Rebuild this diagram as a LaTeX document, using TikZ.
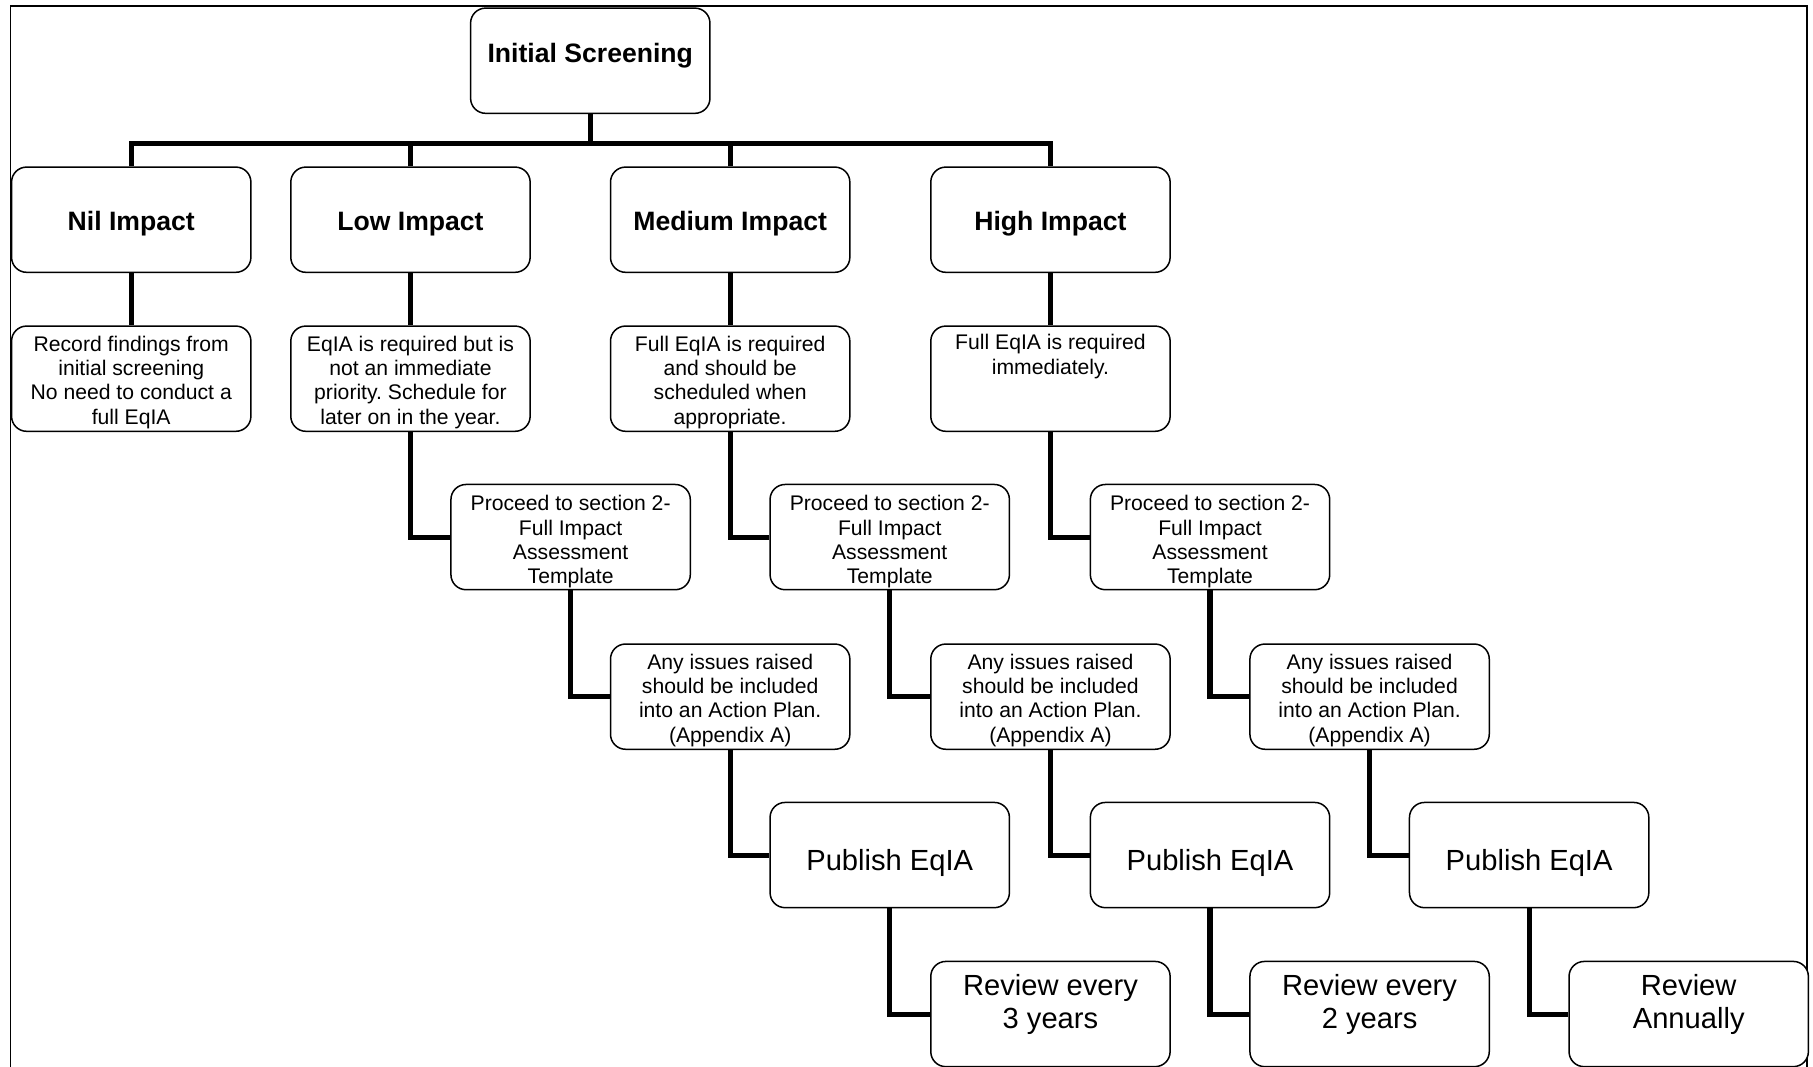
\documentclass[tikz,border=0pt]{standalone}
\usepackage{fontspec}
\setmainfont{Liberation Sans}
\newcommand\topstrut[1]{\rule{0pt}{#1}}
\begin{document}
\frenchspacing
\begin{tikzpicture}[x=1pt,y=-1pt,
  box/.style={draw, line width=1.3pt, rounded corners=13pt, minimum width=207pt, minimum height=91pt, inner sep=0pt, align=center, fill=white},
  boldtxt/.style={font=\bfseries\fontsize{23}{26}\selectfont},
  smalltxt/.style={font=\fontsize{18.3}{21}\selectfont\frenchspacing},
  bigtxt/.style={font=\fontsize{25.2}{29}\selectfont},
  conn/.style={line width=4.4pt, line join=miter}]
\useasboundingbox (0,0) rectangle (1568,922);
\clip (0,0) rectangle (1568,922);
\fill[white] (0,0) rectangle (1568,922);
\draw[line width=1.3pt] (9,5) rectangle (1563,960);

% level 1
\node[box, boldtxt, text depth=13pt] (init) at (510.5,52.5) {Initial Screening};
% level 2
\node[box, boldtxt, text height=23.2pt] (nil) at (113.5,190) {Nil Impact};
\node[box, boldtxt, text height=23.2pt] (low) at (355,190) {Low Impact};
\node[box, boldtxt, text height=23.2pt] (med) at (631.5,190) {Medium Impact};
\node[box, boldtxt, text height=23.2pt] (high) at (908.5,190) {High Impact};
% level 3
\node[box, smalltxt] (nilr) at (113.5,327.5) {\topstrut{19.4pt}Record findings from\\initial screening\\No need to conduct a\\full EqIA};
\node[box, smalltxt] (lowr) at (355,327.5) {\topstrut{19.4pt}EqIA is required but is\\not an immediate\\priority. Schedule for\\later on in the year.};
\node[box, smalltxt] (medr) at (631.5,327.5) {\topstrut{19.4pt}Full EqIA is required\\and should be\\scheduled when\\appropriate.};
\node[box, smalltxt] (highr) at (908.5,327.5) {\topstrut{19.4pt}Full EqIA is required\\immediately.\\\strut\\\strut};
% level 4
\node[box, smalltxt] (p1) at (493.5,464.5) {\topstrut{21.4pt}Proceed to section 2-\\Full Impact\\Assessment\\Template};
\node[box, smalltxt] (p2) at (769.5,464.5) {\topstrut{21.4pt}Proceed to section 2-\\Full Impact\\Assessment\\Template};
\node[box, smalltxt] (p3) at (1046.5,464.5) {\topstrut{21.4pt}Proceed to section 2-\\Full Impact\\Assessment\\Template};
% level 5
\node[box, smalltxt] (a1) at (631.5,602.5) {\topstrut{19.4pt}Any issues raised\\should be included\\into an Action Plan.\\(Appendix A)};
\node[box, smalltxt] (a2) at (908.5,602.5) {\topstrut{19.4pt}Any issues raised\\should be included\\into an Action Plan.\\(Appendix A)};
\node[box, smalltxt] (a3) at (1184.5,602.5) {\topstrut{19.4pt}Any issues raised\\should be included\\into an Action Plan.\\(Appendix A)};
% level 6
\node[box, bigtxt, text height=31.4pt] (pub1) at (769.5,739.5) {Publish EqIA};
\node[box, bigtxt, text height=31.4pt] (pub2) at (1046.5,739.5) {Publish EqIA};
\node[box, bigtxt, text height=31.4pt] (pub3) at (1322.5,739.5) {Publish EqIA};
% level 7
\node[box, bigtxt, text depth=22pt] (r1) at (908.5,877) {Review every\\3 years};
\node[box, bigtxt, text depth=22pt] (r2) at (1184.5,877) {Review every\\2 years};
\node[box, bigtxt, text depth=22pt] (r3) at (1460.5,877) {Review\\Annually};

% connectors
\coordinate (bus) at (510.5,124);
\draw[conn] (init.south) -- (bus);
\draw[conn] (nil.north) -- (nil.north |- bus) -- (high.north |- bus) -- (high.north);
\draw[conn] (low.north) -- (low.north |- bus);
\draw[conn] (med.north) -- (med.north |- bus);

\draw[conn] (nil.south) -- (nilr.north);
\draw[conn] (low.south) -- (lowr.north);
\draw[conn] (med.south) -- (medr.north);
\draw[conn] (high.south) -- (highr.north);

\draw[conn] (lowr.south) |- (p1.west);
\draw[conn] (medr.south) |- (p2.west);
\draw[conn] (highr.south) |- (p3.west);

\draw[conn] (p1.south) |- (a1.west);
\draw[conn] (p2.south) |- (a2.west);
\draw[conn] (p3.south) |- (a3.west);

\draw[conn] (a1.south) |- (pub1.west);
\draw[conn] (a2.south) |- (pub2.west);
\draw[conn] (a3.south) |- (pub3.west);

\draw[conn] (pub1.south) |- (r1.west);
\draw[conn] (pub2.south) |- (r2.west);
\draw[conn] (pub3.south) |- (r3.west);
\end{tikzpicture}
\end{document}
